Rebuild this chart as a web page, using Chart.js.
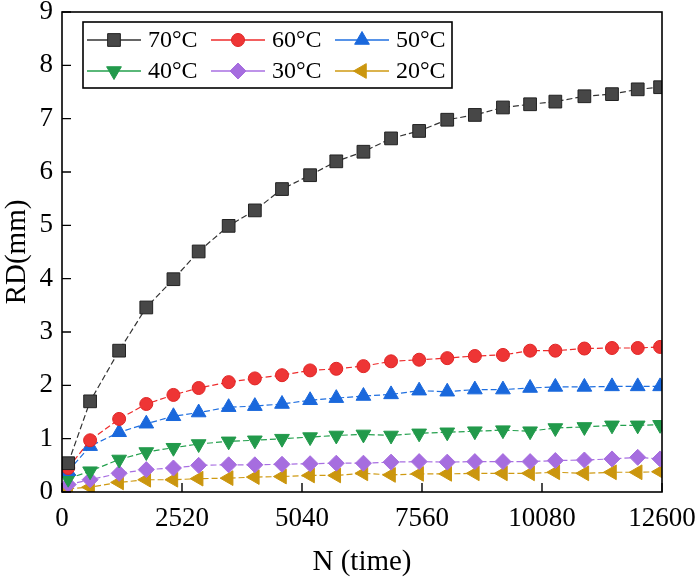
<!DOCTYPE html>
<html>
<head>
<meta charset="utf-8">
<script src="https://cdn.jsdelivr.net/npm/chart.js@4.4.1/dist/chart.umd.min.js"></script>
<style>
  html, body { margin: 0; padding: 0; background: #fff; }
  canvas { display: block; }
</style>
</head>
<body>
<canvas id="rdChart" width="700" height="584"></canvas>
<script>
// time axis (N)
const timeN = [130, 590, 1200, 1770, 2340, 2870, 3500, 4050, 4620, 5210, 5760, 6330,
    6910, 7500, 8090, 8670, 9260, 9830, 10360, 10970, 11550, 12090, 12560];
const xTicks = [0, 2520, 5040, 7560, 10080, 12600];
const yTicks = [0, 1, 2, 3, 4, 5, 6, 7, 8, 9];

const seriesNames = ['70°C', '60°C', '50°C', '40°C', '30°C', '20°C'];
const rd70 = [0.54, 1.70, 2.65, 3.46, 3.99, 4.51, 4.99, 5.28, 5.68, 5.94, 6.20, 6.38, 6.63, 6.77, 6.98, 7.07, 7.21, 7.27, 7.32, 7.42, 7.46, 7.55, 7.59];
const rd60 = [0.45, 0.97, 1.37, 1.65, 1.82, 1.95, 2.06, 2.13, 2.19, 2.28, 2.31, 2.36, 2.45, 2.48, 2.51, 2.55, 2.57, 2.65, 2.65, 2.69, 2.70, 2.70, 2.72];
const rd50 = [0.39, 0.86, 1.12, 1.28, 1.42, 1.49, 1.59, 1.61, 1.65, 1.72, 1.76, 1.80, 1.83, 1.90, 1.88, 1.92, 1.92, 1.95, 1.97, 1.97, 1.98, 1.98, 1.98];
const rd40 = [0.25, 0.39, 0.61, 0.75, 0.83, 0.90, 0.95, 0.97, 1.00, 1.03, 1.06, 1.08, 1.06, 1.10, 1.12, 1.14, 1.16, 1.14, 1.20, 1.22, 1.25, 1.25, 1.26];
const rd30 = [0.14, 0.23, 0.35, 0.42, 0.45, 0.50, 0.51, 0.51, 0.52, 0.53, 0.54, 0.54, 0.56, 0.57, 0.56, 0.57, 0.57, 0.57, 0.59, 0.60, 0.62, 0.65, 0.62];
const rd20 = [0.06, 0.09, 0.18, 0.23, 0.23, 0.25, 0.26, 0.28, 0.29, 0.31, 0.31, 0.35, 0.32, 0.34, 0.34, 0.35, 0.35, 0.35, 0.37, 0.35, 0.37, 0.37, 0.38];

const SERIF = "'Liberation Serif', 'Times New Roman', serif";

// look of each series: line colour, fill, marker
const styles = [
    { line: '#333333', fill: '#474747', border: '#222222', pointStyle: 'rect', rotation: 0, radius: 9 },
    { line: '#ee2b2b', fill: '#ee3535', border: '#e02525', pointStyle: 'circle', rotation: 0, radius: 6.5 },
    { line: '#1f6fe0', fill: '#1a68dc', border: '#1a68dc', pointStyle: 'triangle', rotation: 0, radius: 8.5 },
    { line: '#23a04d', fill: '#229a4b', border: '#229a4b', pointStyle: 'triangle', rotation: 180, radius: 8.5 },
    { line: '#a86fe2', fill: '#a66ddf', border: '#a66ddf', pointStyle: 'rectRot', rotation: 0, radius: 8 },
    { line: '#cf9a12', fill: '#cb960e', border: '#cb960e', pointStyle: 'triangle', rotation: -90, radius: 8.5 }
];
const allSeries = [rd70, rd60, rd50, rd40, rd30, rd20];

const datasets = allSeries.map((vals, i) => ({
    label: seriesNames[i],
    data: vals.map((v, k) => ({ x: timeN[k], y: v })),
    borderColor: styles[i].line,
    borderWidth: 1.2,
    borderDash: [6, 3],
    backgroundColor: styles[i].fill,
    pointBackgroundColor: styles[i].fill,
    pointBorderColor: styles[i].border,
    pointBorderWidth: 1,
    pointStyle: styles[i].pointStyle,
    pointRotation: styles[i].rotation,
    pointRadius: styles[i].radius,
    pointHoverRadius: styles[i].radius,
    tension: 0
}));

// frame around the plot plus inward tick marks
const framePlugin = {
    id: 'frame',
    afterDraw(chart) {
        const { ctx, chartArea: a, scales } = chart;
        ctx.save();
        ctx.strokeStyle = '#000';
        ctx.lineWidth = 1.6;
        ctx.strokeRect(a.left, a.top, a.right - a.left, a.bottom - a.top);
        ctx.lineWidth = 1.4;
        ctx.beginPath();
        xTicks.forEach(v => {
            const x = scales.x.getPixelForValue(v);
            ctx.moveTo(x, a.bottom);
            ctx.lineTo(x, a.bottom - 9);
        });
        yTicks.forEach(v => {
            const y = scales.y.getPixelForValue(v);
            ctx.moveTo(a.left, y);
            ctx.lineTo(a.left + 9, y);
        });
        ctx.stroke();
        ctx.restore();
    }
};

// boxed legend, three columns, line + marker + label
const legendPlugin = {
    id: 'boxLegend',
    afterDraw(chart) {
        const { ctx, chartArea: a } = chart;
        const bx = a.left + 21, by = a.top + 10, bw = 369, bh = 66;
        ctx.save();
        ctx.fillStyle = '#fff';
        ctx.fillRect(bx, by, bw, bh);
        ctx.strokeStyle = '#000';
        ctx.lineWidth = 1.6;
        ctx.strokeRect(bx, by, bw, bh);
        ctx.font = '24px ' + SERIF;
        ctx.textBaseline = 'middle';
        ctx.textAlign = 'left';
        seriesNames.forEach((name, i) => {
            const col = i % 3, row = Math.floor(i / 3);
            const x0 = bx + 4 + col * 124;
            const y0 = by + 18 + row * 31;
            const st = styles[i];
            ctx.strokeStyle = st.line;
            ctx.lineWidth = 1.4;
            ctx.setLineDash([]);
            ctx.beginPath();
            ctx.moveTo(x0, y0);
            ctx.lineTo(x0 + 54, y0);
            ctx.stroke();
            ctx.fillStyle = st.fill;
            ctx.strokeStyle = st.border;
            ctx.lineWidth = 1;
            Chart.helpers.drawPoint(ctx, {
                pointStyle: st.pointStyle,
                rotation: st.rotation,
                radius: st.radius,
                borderWidth: 1
            }, x0 + 27, y0);
            ctx.fillStyle = '#000';
            ctx.fillText(name, x0 + 61, y0 + 1);
        });
        ctx.restore();
    }
};

new Chart(document.getElementById('rdChart').getContext('2d'), {
    type: 'line',
    data: { datasets: datasets },
    options: {
        responsive: false,
        animation: false,
        layout: { padding: { top: 12, right: 38, left: 0, bottom: 0 } },
        plugins: {
            legend: { display: false },
            tooltip: { enabled: false }
        },
        scales: {
            x: {
                type: 'linear',
                min: 0,
                max: 12600,
                afterBuildTicks(scale) {
                    scale.ticks = xTicks.map(v => ({ value: v }));
                },
                afterFit(scale) {
                    scale.height = 92;
                    scale.paddingLeft = 0;
                    scale.paddingRight = 0;
                },
                grid: { display: false, drawTicks: false },
                border: { display: false },
                ticks: {
                    padding: 11,
                    maxRotation: 0,
                    color: '#000',
                    font: { family: SERIF, size: 27 },
                    callback: v => String(v)
                },
                title: {
                    display: true,
                    text: 'N (time)',
                    color: '#000',
                    padding: { top: 0, bottom: 4 },
                    font: { family: SERIF, size: 29 }
                }
            },
            y: {
                min: 0,
                max: 9,
                afterBuildTicks(scale) {
                    scale.ticks = yTicks.map(v => ({ value: v }));
                },
                afterFit(scale) {
                    scale.width = 62;
                    scale.paddingTop = 0;
                    scale.paddingBottom = 0;
                },
                grid: { display: false, drawTicks: false },
                border: { display: false },
                ticks: {
                    padding: 9,
                    color: '#000',
                    font: { family: SERIF, size: 27 },
                    callback: v => String(v)
                },
                title: {
                    display: true,
                    text: 'RD(mm)',
                    color: '#000',
                    padding: { top: 0, bottom: 0 },
                    font: { family: SERIF, size: 29 }
                }
            }
        }
    },
    plugins: [framePlugin, legendPlugin]
});
</script>
</body>
</html>
